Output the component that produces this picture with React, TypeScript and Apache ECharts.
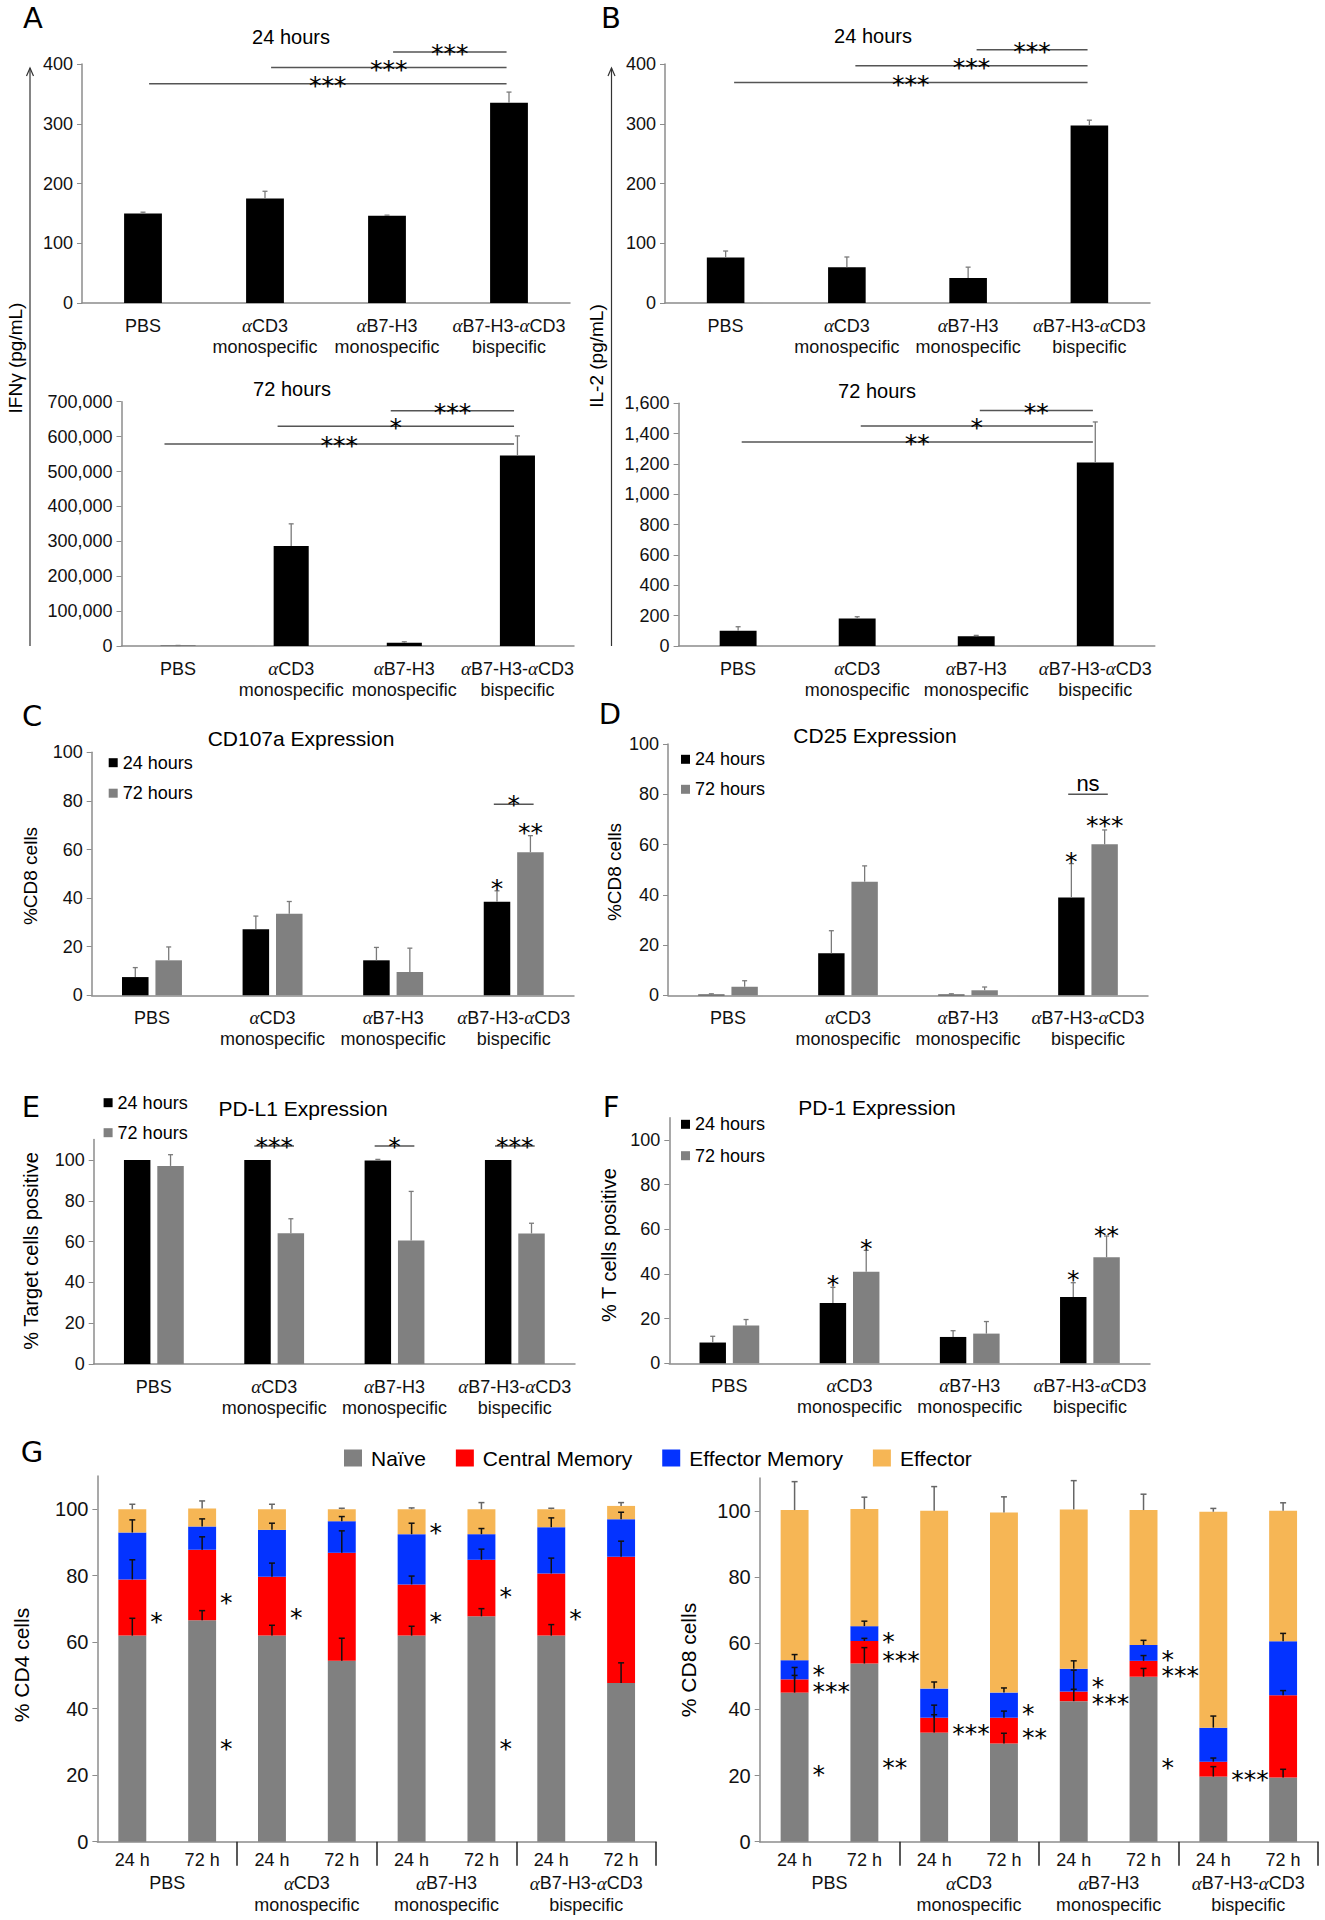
import React, { useEffect, useRef } from 'react';
import * as echarts from 'echarts';

// ---------------- data ----------------
const groupLabels = ['PBS', 'αCD3\nmonospecific', 'αB7-H3\nmonospecific', 'αB7-H3-αCD3\nbispecific'];
const hourCats = ['PBS 24', 'PBS 72', 'CD3 24', 'CD3 72', 'B7H3 24', 'B7H3 72', 'Bi 24', 'Bi 72'];
const hourLabels = ['24 h', '72 h', '24 h', '72 h', '24 h', '72 h', '24 h', '72 h'];

// A: IFN-gamma (pg/mL)
const ifng24Mean = [150, 175, 146, 335];
const ifng24Sd = [2, 12, 1, 18];
const ifng72Mean = [1000, 286500, 9500, 546000];
const ifng72Sd = [600, 63500, 2500, 56000];
const ifng24Sig = [
  { from: 0, to: 3, y: 367, text: '***' },
  { from: 1, to: 3, y: 394, text: '***' },
  { from: 2, to: 3, y: 420, text: '***' },
];
const ifng72Sig = [
  { from: 0, to: 3, y: 579000, text: '***' },
  { from: 1, to: 3, y: 630000, text: '*' },
  { from: 2, to: 3, y: 674000, text: '***' },
];

// B: IL-2 (pg/mL)
const il2_24Mean = [76, 60, 42, 297];
const il2_24Sd = [11, 17, 18, 9];
const il2_72Mean = [101, 182, 64, 1209];
const il2_72Sd = [26, 11, 6, 268];
const il2_24Sig = [
  { from: 0, to: 3, y: 369, text: '***' },
  { from: 1, to: 3, y: 397, text: '***' },
  { from: 2, to: 3, y: 424, text: '***' },
];
const il2_72Sig = [
  { from: 0, to: 3, y: 1345, text: '**' },
  { from: 1, to: 3, y: 1451, text: '*' },
  { from: 2, to: 3, y: 1552, text: '**' },
];

// C: CD107a
const cd107a24 = [7.5, 27.2, 14.4, 38.5];
const cd107a24Sd = [3.9, 5.4, 5.3, 4.5];
const cd107a72 = [14.4, 33.6, 9.6, 58.9];
const cd107a72Sd = [5.5, 5.0, 9.8, 6.8];
const cd107aStars = [
  { cat: 3, k: 0, y: 46.4, text: '*' },
  { cat: 3, k: 1, y: 69.4, text: '**' },
];
const cd107aPairs = [{ cat: 3, y: 78.6, text: '*' }];

// D: CD25
const cd25_24 = [0.3, 16.7, 0.3, 38.9];
const cd25_24Sd = [0.3, 9.0, 0.3, 13.5];
const cd25_72 = [3.4, 45.2, 2.0, 60.1];
const cd25_72Sd = [2.4, 6.3, 1.3, 5.7];
const cd25Stars = [
  { cat: 3, k: 0, y: 55.8, text: '*' },
  { cat: 3, k: 1, y: 70.0, text: '***' },
];
const cd25Pairs = [{ cat: 3, y: 80, text: 'ns' }];

// E: PD-L1
const pdl1_24 = [100, 100, 99.7, 100];
const pdl1_24Sd = [0, 0, 0.6, 0];
const pdl1_72 = [97.1, 64.1, 60.5, 64.0];
const pdl1_72Sd = [5.5, 7.1, 24.1, 5.0];
const pdl1Pairs = [
  { cat: 1, y: 106.9, text: '***' },
  { cat: 2, y: 106.9, text: '*' },
  { cat: 3, y: 106.9, text: '***' },
];

// F: PD-1
const pd1_24 = [9.3, 27.0, 11.8, 29.7];
const pd1_24Sd = [2.8, 7.0, 2.8, 6.4];
const pd1_72 = [16.9, 41.0, 13.3, 47.5];
const pd1_72Sd = [2.7, 9.6, 5.4, 9.5];
const pd1Stars = [
  { cat: 1, k: 0, y: 38, text: '*' },
  { cat: 1, k: 1, y: 54, text: '*' },
  { cat: 3, k: 0, y: 40.3, text: '*' },
  { cat: 3, k: 1, y: 60, text: '**' },
];

// G: T cell subsets
const subsetNames = ['Naïve', 'Central Memory', 'Effector Memory', 'Effector'];
const cd4Naive = [62.0, 66.6, 62.0, 54.4, 62.0, 67.8, 62.0, 47.7];
const cd4CM = [16.9, 21.2, 17.7, 32.5, 15.4, 17.0, 18.7, 38.0];
const cd4EM = [14.1, 7.0, 14.1, 9.5, 15.1, 7.7, 13.9, 11.3];
const cd4Eff = [7.0, 5.4, 6.2, 3.6, 7.5, 7.5, 5.4, 4.0];
const cd4NaiveSd = [5.2, 2.9, 3.1, 6.8, 2.8, 2.3, 3.3, 6.1];
const cd4CMSd = [5.9, 3.9, 4.1, 6.6, 2.5, 3.2, 4.6, 4.7];
const cd4EMSd = [3.8, 2.3, 2.0, 1.4, 3.3, 1.7, 2.8, 2.1];
const cd4EffSd = [1.5, 2.3, 1.5, 0.3, 0.4, 2.0, 0.3, 1.0];
const cd4Stars = [
  { bar: 0, y: 68.2, text: '*' },
  { bar: 1, y: 73.7, text: '*' },
  { bar: 1, y: 29.8, text: '*' },
  { bar: 2, y: 69.2, text: '*' },
  { bar: 4, y: 94.8, text: '*' },
  { bar: 4, y: 68.2, text: '*' },
  { bar: 5, y: 75.5, text: '*' },
  { bar: 5, y: 29.8, text: '*' },
  { bar: 6, y: 68.9, text: '*' },
];

const cd8Naive = [45.1, 53.9, 33.0, 29.7, 42.5, 49.9, 19.7, 19.4];
const cd8CM = [4.0, 6.8, 4.5, 7.8, 2.9, 4.8, 4.5, 24.9];
const cd8EM = [5.8, 4.5, 8.8, 7.6, 6.9, 4.8, 10.3, 16.3];
const cd8Eff = [45.4, 35.4, 53.8, 54.5, 48.2, 40.8, 65.3, 39.5];
const cd8NaiveSd = [5.2, 4.8, 5.4, 3.1, 3.6, 2.5, 3.0, 2.5];
const cd8CMSd = [3.6, 0.8, 3.8, 2.0, 6.5, 1.6, 1.1, 1.4];
const cd8EMSd = [1.7, 1.5, 2.0, 1.4, 2.4, 1.4, 3.5, 2.4];
const cd8EffSd = [8.6, 3.6, 7.3, 4.7, 8.7, 4.8, 1.0, 2.4];
const cd8Stars = [
  { bar: 0, y: 52.4, text: '*' },
  { bar: 0, y: 47.2, text: '***' },
  { bar: 0, y: 22.2, text: '*' },
  { bar: 1, y: 62.3, text: '*' },
  { bar: 1, y: 56.7, text: '***' },
  { bar: 1, y: 24.2, text: '**' },
  { bar: 2, y: 34.7, text: '***' },
  { bar: 3, y: 40.7, text: '*' },
  { bar: 3, y: 33.3, text: '**' },
  { bar: 4, y: 48.8, text: '*' },
  { bar: 4, y: 43.8, text: '***' },
  { bar: 5, y: 57.1, text: '*' },
  { bar: 5, y: 52.1, text: '***' },
  { bar: 5, y: 24.2, text: '*' },
  { bar: 6, y: 20.7, text: '***' },
];

// ---------------- style ----------------
const FONT = '"Liberation Sans", Arial, Helvetica, sans-serif';
const STAR_FONT = '"DejaVu Sans", "Liberation Sans", sans-serif';
const SERIF = '"Liberation Serif", "DejaVu Serif", serif';
const LETTER_FONT = '"DejaVu Sans", Verdana, sans-serif';
const AXIS_GRAY = '#8c8c8c';
const ERR_GRAY = '#7a7a7a';
const BAR_GRAY = '#808080';
const STAR_FS = 25;
const PAIR = 0.1386; // half distance between paired bar centres (fraction of band)
const subsetColors = ['#808080', '#ff0000', '#0433ff', '#f6b655'];

const isStar = (text: string) => text.indexOf('*') >= 0;
const glyphOffset = (text: string, fs: number) => (isStar(text) ? 0.25 * fs : -0.05 * fs);

type ErrPt = { cat: number; dx: number; top: number; sd: number; color: string };
function errorBarSeries(xi: number, yi: number, pts: ErrPt[], capHalf = 2.5, width = 1.3) {
  return {
    type: 'custom',
    xAxisIndex: xi,
    yAxisIndex: yi,
    z: 5,
    silent: true,
    clip: false,
    data: pts.map((p) => [p.cat, p.top]),
    renderItem: (params: any, api: any) => {
      const p = pts[params.dataIndex];
      if (!p || !p.sd) return { type: 'group', children: [] };
      const band = api.size([1, 0])[0];
      const base = api.coord([p.cat, p.top]);
      const topPx = api.coord([p.cat, p.top + p.sd])[1];
      const x = base[0] + p.dx * band;
      return {
        type: 'group',
        children: [
          { type: 'line', shape: { x1: x, y1: base[1], x2: x, y2: topPx }, style: { stroke: p.color, lineWidth: width } },
          { type: 'line', shape: { x1: x - capHalf, y1: topPx, x2: x + capHalf, y2: topPx }, style: { stroke: p.color, lineWidth: width } },
        ],
      };
    },
  };
}

function annotStyle(text: string, x: number, y: number, fs: number, align: string, lh?: number) {
  const star = isStar(text);
  return {
    text,
    x,
    y: y + glyphOffset(text, fs),
    align,
    verticalAlign: 'middle',
    fontSize: fs,
    lineHeight: lh || (star ? 12 : fs),
    fontFamily: star ? STAR_FONT : FONT,
    fill: '#000',
  };
}

// y1 = value of the upper line, y2 = value of the lower line (equal for one-line texts)
type TextPt = { x: number; y1: number; y2: number; text: string; align: string; fs: number; dxPx: number };
function textSeries(xi: number, yi: number, items: TextPt[]) {
  return {
    type: 'custom',
    xAxisIndex: xi,
    yAxisIndex: yi,
    z: 6,
    silent: true,
    clip: false,
    data: items.map((t) => [Math.max(0, Math.round(t.x)), t.y1]),
    renderItem: (params: any, api: any) => {
      const t = items[params.dataIndex];
      const band = api.size([1, 0])[0];
      const p1 = api.coord([0, t.y1]);
      const p2 = api.coord([0, t.y2]);
      const lh = t.y1 === t.y2 ? undefined : Math.max(10, p2[1] - p1[1]);
      return {
        type: 'text',
        style: annotStyle(t.text, p1[0] + t.x * band + t.dxPx, (p1[1] + p2[1]) / 2, t.fs, t.align, lh),
      };
    },
  };
}

type Br = { x1: number; x2: number; y: number; text: string; lift: number; fs: number };
function bracketSeries(xi: number, yi: number, items: Br[]) {
  return {
    type: 'custom',
    xAxisIndex: xi,
    yAxisIndex: yi,
    z: 6,
    silent: true,
    clip: false,
    data: items.map((b) => [Math.max(0, Math.round(b.x1)), b.y]),
    renderItem: (params: any, api: any) => {
      const b = items[params.dataIndex];
      const band = api.size([1, 0])[0];
      const p0 = api.coord([0, b.y]);
      const xa = p0[0] + b.x1 * band;
      const xb = p0[0] + b.x2 * band;
      const y = p0[1];
      return {
        type: 'group',
        children: [
          { type: 'line', shape: { x1: xa, y1: y, x2: xb, y2: y }, style: { stroke: '#555', lineWidth: 1.5 } },
          { type: 'text', style: annotStyle(b.text, (xa + xb) / 2, y - b.lift, b.fs, 'center') },
        ],
      };
    },
  };
}

const richAlpha = { a: { fontStyle: 'italic', fontFamily: SERIF, fontSize: 19, color: '#111', lineHeight: 21 } };
const fmtGroup = (v: string) => v.replace(/α/g, '{a|α}');

function groupAxis(gridIndex: number) {
  return {
    type: 'category',
    gridIndex,
    data: groupLabels,
    axisLine: { show: true, onZero: false, lineStyle: { color: AXIS_GRAY, width: 1.5 } },
    axisTick: { show: false },
    splitLine: { show: false },
    axisLabel: {
      interval: 0,
      margin: 12,
      color: '#111',
      fontSize: 18,
      lineHeight: 21,
      fontFamily: FONT,
      formatter: fmtGroup,
      rich: richAlpha,
    },
  };
}

const commas = (v: number) => v.toLocaleString('en-US');

function valueAxis(gridIndex: number, min: number, max: number, interval: number, opts: any = {}) {
  const custom = opts.custom;
  return {
    type: 'value',
    gridIndex,
    min,
    max,
    interval,
    axisLine: { show: true, lineStyle: { color: AXIS_GRAY, width: 1.5 } },
    axisTick: custom
      ? { show: true, length: 5, lineStyle: { color: AXIS_GRAY }, customValues: custom }
      : { show: true, length: 5, lineStyle: { color: AXIS_GRAY } },
    splitLine: { show: false },
    axisLabel: {
      color: '#111',
      fontSize: opts.fs || 18,
      fontFamily: FONT,
      margin: 9,
      formatter: opts.fmt || ((v: number) => String(v)),
      ...(custom ? { customValues: custom } : {}),
    },
  };
}

function singlePanel(i: number, mean: number[], sd: number[], sig: any[], shift: number[]) {
  return [
    { type: 'bar', xAxisIndex: i, yAxisIndex: i, data: mean, barWidth: '31%', itemStyle: { color: '#000' }, silent: true },
    errorBarSeries(i, i, mean.map((m, c) => ({ cat: c, dx: 0, top: m, sd: sd[c], color: ERR_GRAY }))),
    bracketSeries(
      i,
      i,
      sig.map((s) => ({ x1: s.from + shift[0], x2: s.to + shift[1], y: s.y, text: s.text, lift: 4.5, fs: STAR_FS })),
    ),
  ];
}

function pairPanel(i: number, m24: number[], s24: number[], m72: number[], s72: number[], stars: any[], pairs: any[]) {
  return [
    { type: 'bar', name: '24 hours', xAxisIndex: i, yAxisIndex: i, data: m24, barWidth: '22%', barGap: '26%', itemStyle: { color: '#000' }, silent: true },
    { type: 'bar', name: '72 hours', xAxisIndex: i, yAxisIndex: i, data: m72, barWidth: '22%', barGap: '26%', itemStyle: { color: BAR_GRAY }, silent: true },
    errorBarSeries(i, i, [
      ...m24.map((m, c) => ({ cat: c, dx: -PAIR, top: m, sd: s24[c], color: ERR_GRAY })),
      ...m72.map((m, c) => ({ cat: c, dx: PAIR, top: m, sd: s72[c], color: ERR_GRAY })),
    ]),
    textSeries(
      i,
      i,
      stars.map((s) => ({
        x: s.cat + (s.k ? PAIR : -PAIR),
        y1: s.y,
        y2: s.y,
        text: s.text,
        align: 'center',
        fs: STAR_FS,
        dxPx: 0,
      })),
    ),
    bracketSeries(
      i,
      i,
      pairs.map((p) => ({
        x1: p.cat - 0.165,
        x2: p.cat + 0.165,
        y: p.y,
        text: p.text,
        lift: p.text === 'ns' ? 9.3 : 6,
        fs: p.text === 'ns' ? 22 : STAR_FS,
      })),
    ),
  ];
}

// annotations at the same bar that sit close together are written as one two-line text
function mergeStars(stars: { bar: number; y: number; text: string }[]) {
  const out: { bar: number; y1: number; y2: number; text: string }[] = [];
  const bars = Array.from(new Set(stars.map((s) => s.bar)));
  bars.forEach((b) => {
    const list = stars.filter((s) => s.bar === b).sort((p, q) => q.y - p.y);
    for (let i = 0; i < list.length; i++) {
      const cur = list[i];
      const next = list[i + 1];
      if (next && cur.y - next.y < 9) {
        out.push({ bar: b, y1: cur.y, y2: next.y, text: cur.text + '\n' + next.text });
        i++;
      } else {
        out.push({ bar: b, y1: cur.y, y2: cur.y, text: cur.text });
      }
    }
  });
  return out;
}

function stackPanel(xi: number, yi: number, stackId: string, segs: number[][], sds: number[][], stars: any[]) {
  const out: any[] = segs.map((d, s) => ({
    type: 'bar',
    name: subsetNames[s],
    stack: stackId,
    xAxisIndex: xi,
    yAxisIndex: yi,
    data: d,
    barWidth: '40%',
    itemStyle: { color: subsetColors[s] },
    silent: true,
  }));
  const pts: ErrPt[] = [];
  for (let b = 0; b < segs[0].length; b++) {
    let cum = 0;
    for (let s = 0; s < segs.length; s++) {
      cum += segs[s][b];
      pts.push({ cat: b, dx: 0, top: cum, sd: sds[s][b], color: s === segs.length - 1 ? '#666' : '#111' });
    }
  }
  out.push(errorBarSeries(xi, yi, pts, 3, 1.5));
  out.push(
    textSeries(
      xi,
      yi,
      mergeStars(stars).map((t) => ({ x: t.bar + 0.2, y1: t.y1, y2: t.y2, text: t.text, align: 'left', fs: STAR_FS, dxPx: 4 })),
    ),
  );
  return out;
}

function hoursAxis(gridIndex: number) {
  return {
    type: 'category',
    gridIndex,
    data: hourCats,
    position: 'bottom',
    axisLine: { show: true, onZero: false, lineStyle: { color: AXIS_GRAY, width: 1.5 } },
    axisTick: { show: false },
    splitLine: { show: false },
    axisLabel: {
      interval: 0,
      margin: 9,
      color: '#111',
      fontSize: 18,
      fontFamily: FONT,
      formatter: (_v: string, idx: number) => hourLabels[idx],
    },
  };
}

function groupSepAxis(gridIndex: number) {
  return {
    type: 'category',
    gridIndex,
    data: groupLabels,
    position: 'bottom',
    offset: 0,
    axisLine: { show: false },
    axisTick: { show: true, interval: (index: number) => index > 0, length: 24, lineStyle: { color: '#222', width: 1.5 } },
    splitLine: { show: false },
    axisLabel: {
      interval: 0,
      margin: 31,
      color: '#111',
      fontSize: 18,
      lineHeight: 21.5,
      fontFamily: FONT,
      formatter: fmtGroup,
      rich: { a: { ...richAlpha.a, lineHeight: 21.5 } },
    },
  };
}

function txt(text: string, x: number, y: number, fs: number, font = FONT, rotation = 0) {
  return {
    type: 'text',
    x,
    y,
    rotation,
    silent: true,
    style: { text, x: 0, y: 0, fontSize: fs, fontFamily: font, fill: '#000', align: 'center', verticalAlign: 'middle' },
  };
}

function arrow(x: number, y1: number, y2: number) {
  return [
    { type: 'line', silent: true, shape: { x1: x, y1, x2: x, y2 }, style: { stroke: '#333', lineWidth: 1.2 } },
    {
      type: 'polyline',
      silent: true,
      shape: { points: [[x - 3.5, y2 + 8], [x, y2], [x + 3.5, y2 + 8]] },
      style: { stroke: '#333', fill: 'none', lineWidth: 1.2 },
    },
  ];
}

function buildOption() {
  const gridBox = [
    { left: 82, top: 64, width: 488, height: 239 }, // A1
    { left: 121.5, top: 401.7, width: 452.5, height: 244.3 }, // A2
    { left: 665, top: 64, width: 485, height: 239 }, // B1
    { left: 678.6, top: 403.3, width: 476.2, height: 242.7 }, // B2
    { left: 91.7, top: 752.3, width: 482.3, height: 243 }, // C
    { left: 668, top: 744, width: 480, height: 251.3 }, // D
    { left: 93.7, top: 1139.6, width: 481.3, height: 224.4 }, // E
    { left: 669.3, top: 1117.7, width: 480.7, height: 245.6 }, // F
    { left: 97.4, top: 1476, width: 558.6, height: 365.7 }, // G CD4
    { left: 759.7, top: 1478, width: 558.3, height: 363.7 }, // G CD8
  ];
  const grid = gridBox.map((g) => ({ ...g, containLabel: false, outerBoundsMode: 'none', show: false }));

  const pct = [0, 20, 40, 60, 80, 100];
  const xAxis = [
    groupAxis(0),
    groupAxis(1),
    groupAxis(2),
    groupAxis(3),
    groupAxis(4),
    groupAxis(5),
    groupAxis(6),
    groupAxis(7),
    hoursAxis(8),
    groupSepAxis(8),
    hoursAxis(9),
    groupSepAxis(9),
  ];
  const yAxis = [
    valueAxis(0, 0, 400, 100),
    valueAxis(1, 0, 700000, 100000, { fmt: commas }),
    valueAxis(2, 0, 400, 100),
    valueAxis(3, 0, 1600, 200, { fmt: commas }),
    valueAxis(4, 0, 100, 20),
    valueAxis(5, 0, 100, 20),
    valueAxis(6, 0, 110, 10, { custom: pct }),
    valueAxis(7, 0, 110, 10, { custom: pct }),
    valueAxis(8, 0, 110, 10, { custom: pct, fs: 20 }),
    valueAxis(9, 0, 110, 10, { custom: pct, fs: 20 }),
  ];

  const series: any[] = [
    ...singlePanel(0, ifng24Mean, ifng24Sd, ifng24Sig, [0.05, -0.02]),
    ...singlePanel(1, ifng72Mean, ifng72Sd, ifng72Sig, [-0.12, -0.03]),
    ...singlePanel(2, il2_24Mean, il2_24Sd, il2_24Sig, [0.07, -0.015]),
    ...singlePanel(3, il2_72Mean, il2_72Sd, il2_72Sig, [0.03, -0.02]),
    ...pairPanel(4, cd107a24, cd107a24Sd, cd107a72, cd107a72Sd, cd107aStars, cd107aPairs),
    ...pairPanel(5, cd25_24, cd25_24Sd, cd25_72, cd25_72Sd, cd25Stars, cd25Pairs),
    ...pairPanel(6, pdl1_24, pdl1_24Sd, pdl1_72, pdl1_72Sd, [], pdl1Pairs),
    ...pairPanel(7, pd1_24, pd1_24Sd, pd1_72, pd1_72Sd, pd1Stars, []),
    ...stackPanel(8, 8, 'cd4', [cd4Naive, cd4CM, cd4EM, cd4Eff], [cd4NaiveSd, cd4CMSd, cd4EMSd, cd4EffSd], cd4Stars),
    ...stackPanel(10, 9, 'cd8', [cd8Naive, cd8CM, cd8EM, cd8Eff], [cd8NaiveSd, cd8CMSd, cd8EMSd, cd8EffSd], cd8Stars),
  ];

  const legendBase = {
    orient: 'vertical',
    padding: 0,
    icon: 'rect',
    itemWidth: 9,
    itemHeight: 9,
    itemGap: 12.5,
    selectedMode: false,
    data: ['24 hours', '72 hours'],
    textStyle: { fontSize: 18, fontFamily: FONT, color: '#000' },
  };
  const legend = [
    { ...legendBase, left: 108.7, top: 753.7 },
    { ...legendBase, left: 681, top: 750.3, itemGap: 12 },
    { ...legendBase, left: 103.6, top: 1093.7, itemGap: 12 },
    { ...legendBase, left: 681, top: 1115.3, itemGap: 13.4 },
    {
      orient: 'horizontal',
      padding: 0,
      icon: 'rect',
      left: 344,
      top: 1447.5,
      itemWidth: 18,
      itemHeight: 17,
      itemGap: 30,
      selectedMode: false,
      data: subsetNames,
      textStyle: { fontSize: 21, fontFamily: FONT, color: '#000', padding: [0, 0, 0, 4] },
    },
  ];

  const graphic: any[] = [
    txt('A', 33, 18, 29, LETTER_FONT),
    txt('B', 611, 18, 29, LETTER_FONT),
    txt('C', 32, 716, 29, LETTER_FONT),
    txt('D', 610, 714, 29, LETTER_FONT),
    txt('E', 31, 1107, 29, LETTER_FONT),
    txt('F', 611, 1107, 29, LETTER_FONT),
    txt('G', 32, 1452, 29, LETTER_FONT),
    txt('24 hours', 291, 37, 20),
    txt('72 hours', 292, 389, 20),
    txt('24 hours', 873, 36, 20),
    txt('72 hours', 877, 391, 20),
    txt('CD107a Expression', 301, 738, 21),
    txt('CD25 Expression', 875, 735, 21),
    txt('PD-L1 Expression', 303, 1108, 21),
    txt('PD-1 Expression', 877, 1107, 21),
    txt('IFNγ (pg/mL)', 15, 358, 19, FONT, Math.PI / 2),
    txt('IL-2 (pg/mL)', 596, 356, 19, FONT, Math.PI / 2),
    txt('%CD8 cells', 30, 876, 19, FONT, Math.PI / 2),
    txt('%CD8 cells', 614, 872, 19, FONT, Math.PI / 2),
    txt('% Target cells positive', 31, 1251, 20, FONT, Math.PI / 2),
    txt('% T cells positive', 609, 1245, 20, FONT, Math.PI / 2),
    txt('% CD4 cells', 21, 1665, 21, FONT, Math.PI / 2),
    txt('% CD8 cells', 688, 1660, 21, FONT, Math.PI / 2),
    ...arrow(30, 646, 68),
    ...arrow(611.5, 646, 68),
  ];

  return {
    animation: false,
    backgroundColor: '#ffffff',
    textStyle: { fontFamily: FONT },
    grid,
    xAxis,
    yAxis,
    legend,
    series,
    graphic,
  };
}

export default function App() {
  const ref = useRef<HTMLDivElement | null>(null);
  useEffect(() => {
    if (!ref.current) return;
    const chart = echarts.init(ref.current, null, { renderer: 'svg' });
    chart.setOption(buildOption() as any);
    return () => chart.dispose();
  }, []);
  return (
    <div
      ref={ref}
      style={{ position: 'absolute', left: 0, top: 0, width: 1325, height: 1920, background: '#fff' }}
    />
  );
}
